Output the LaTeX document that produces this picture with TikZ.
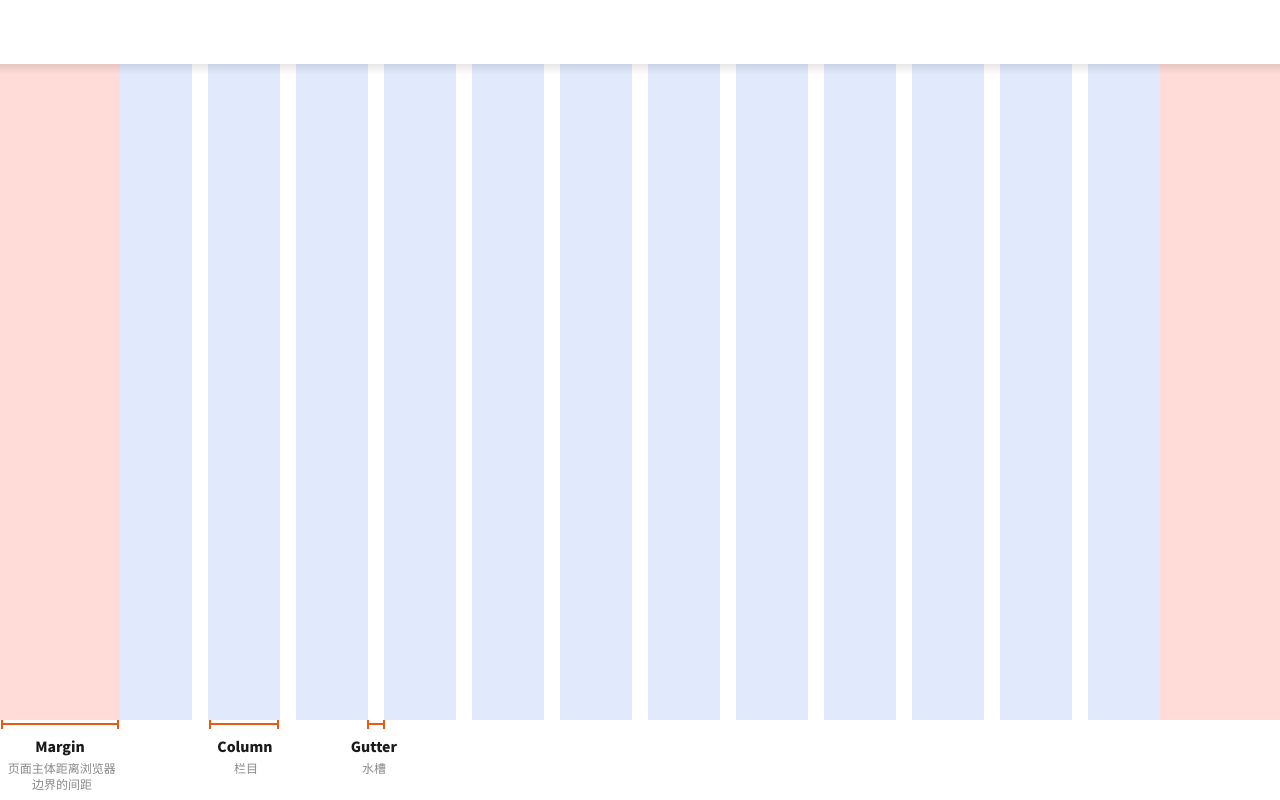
\documentclass[tikz,border=0pt]{standalone}
\usepackage{fontspec}
\setmainfont{Noto Sans CJK SC}
\usetikzlibrary{arrows.meta}
\definecolor{mpink}{HTML}{FFDCD8}
\definecolor{cblue}{HTML}{E1EAFD}
\definecolor{dimorange}{HTML}{E85A12}
\definecolor{titletext}{HTML}{1A1A1A}
\definecolor{subtext}{HTML}{8A8A8A}
\tikzset{
  marginbox/.style={fill=mpink, draw=none},
  colbox/.style={fill=cblue, draw=none},
  dimline/.style={draw=dimorange, line width=2.6pt, {Bar[width=9pt,line width=2pt]}-{Bar[width=9pt,line width=2pt]}},
  titlelbl/.style={font=\fontsize{14}{16}\selectfont\bfseries, text=titletext, inner sep=0pt, anchor=base},
  sublbl/.style={font=\fontsize{12}{16}\selectfont, text=subtext, inner sep=0pt, anchor=base},
}
\begin{document}
\begin{tikzpicture}[x=1pt,y=-1pt]
\useasboundingbox (0,0) rectangle (1280,800);
\fill[white] (0,0) rectangle (1280,800);
% margins
\fill[marginbox] (0,64) rectangle (120,720);
\fill[marginbox] (1160,64) rectangle (1280,720);
% columns
\foreach \i in {0,...,11} {
  \fill[colbox] ({120+88*\i},64) rectangle ({192+88*\i},720);
}
% header shadow
\foreach \k in {0,...,9} {
  \fill[black, opacity={0.009*(10-\k)}] (0,{64+\k}) rectangle (1280,{65+\k});
}
\fill[white] (0,0) rectangle (1280,64);
% dimension coordinates
\coordinate (m1) at (1,724);
\coordinate (m2) at (119,724);
\coordinate (c1) at (209,724);
\coordinate (c2) at (279,724);
\coordinate (g1) at (367,724);
\coordinate (g2) at (385,724);
\draw[dimline] (m1) -- (m2);
\draw[dimline] (c1) -- (c2);
\draw[dimline] (g1) -- (g2);
% labels
\node[titlelbl] (mt) at (60,752) {Margin};
\node[sublbl] (ms1) at (62,773) {页面主体距离浏览器};
\node[sublbl] (ms2) at (62,789) {边界的间距};
\node[titlelbl] (ct) at (245,752) {Column};
\node[sublbl] (cs) at (246,773) {栏目};
\node[titlelbl] (gt) at (374,752) {Gutter};
\node[sublbl] (gs) at (374,773) {水槽};
\end{tikzpicture}
\end{document}
